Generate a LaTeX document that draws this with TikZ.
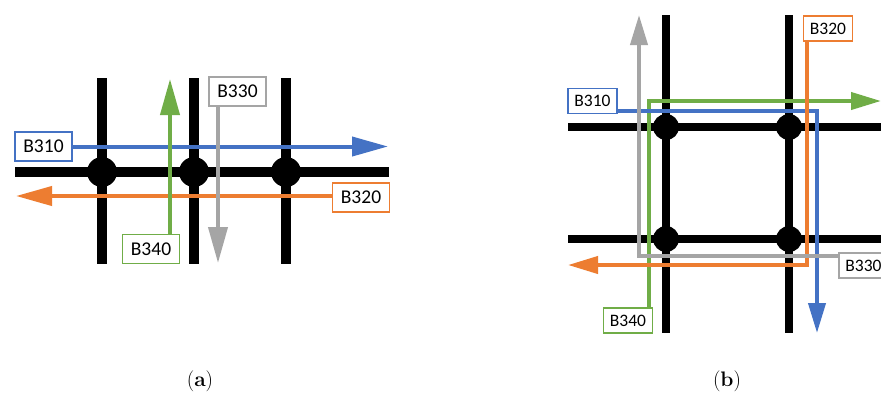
\documentclass[tikz,border=0pt]{standalone}
\usepackage{fontspec}
\setmainfont{Latin Modern Roman}
\newfontfamily\labelfont{Carlito}
\usetikzlibrary{arrows.meta}
\definecolor{cblue}{HTML}{4472C4}
\definecolor{corange}{HTML}{ED7D31}
\definecolor{cgreen}{HTML}{70AD47}
\definecolor{cgray}{HTML}{A5A5A5}
\begin{document}
\begin{tikzpicture}[x=1pt,y=-1pt,
  road/.style={line width=9.5pt,black},
  roadb/.style={line width=8pt,black},
  junction/.style={circle,fill=black,inner sep=0pt,minimum size=30pt},
  junctionb/.style={circle,fill=black,inner sep=0pt,minimum size=26pt},
  route/.style={line width=4pt,-{Triangle[length=36pt,width=19pt]}},
  routeb/.style={line width=4pt,-{Triangle[length=30pt,width=17pt]}},
  tag/.style={draw,fill=white,line width=1.4pt,inner sep=0pt,
    font=\labelfont\fontsize{19.5}{22}\selectfont,minimum width=57pt,minimum height=29pt},
  tagb/.style={draw,fill=white,line width=1.4pt,inner sep=0pt,
    font=\labelfont\fontsize{17.5}{20}\selectfont,minimum width=49pt,minimum height=25pt},
  caption/.style={font=\fontsize{21}{24}\selectfont}]
\clip (0,0) rectangle (881,392);
\fill[white] (0,0) rectangle (881,392);

% ---------- (a) one street with three crossings ----------
\draw[road] (102,78) -- (102,264);
\draw[road] (194,78) -- (194,264);
\draw[road] (286,78) -- (286,264);
\draw[road] (15,172) -- (389,172);
\node[junction] (ja1) at (102,172) {};
\node[junction] (ja2) at (194,172) {};
\node[junction] (ja3) at (286,172) {};

\node[tag,draw=cblue]   (a310) at (43.5,146.5) {B310};
\node[tag,draw=corange] (a320) at (361,197.5)  {B320};
\node[tag,draw=cgreen]  (a340) at (151,249)    {B340};
\node[tag,draw=cgray]   (a330) at (237.5,91.5) {B330};

\coordinate (a310e) at (388,146.5);
\coordinate (a320e) at (16,196);
\coordinate (a340e) at (170,79);
\coordinate (a330e) at (218,263);

\draw[route,cblue]   (a310.east) -- (a310e);
\draw[route,corange] (a320.west |- a320e) -- (a320e);
\draw[route,cgreen]  (a340.north -| a340e) -- (a340e);
\draw[route,cgray]   (a330.south -| a330e) -- (a330e);

% ---------- (b) a block with four crossings ----------
\draw[roadb] (666,15) -- (666,333);
\draw[roadb] (789,15) -- (789,333);
\draw[roadb] (568,127) -- (881,127);
\draw[roadb] (568,239) -- (881,239);
\node[junctionb] (jb1) at (666,127) {};
\node[junctionb] (jb2) at (789,127) {};
\node[junctionb] (jb3) at (666,239) {};
\node[junctionb] (jb4) at (789,239) {};

\node[tagb,draw=cblue]   (b310) at (592.5,101) {B310};
\node[tagb,draw=corange] (b320) at (828,28.5)  {B320};
\node[tagb,draw=cgreen]  (b340) at (628,320.5) {B340};
\node[tagb,draw=cgray]   (b330) at (863.5,265.5) {B330};

\coordinate (g1) at (649,101);
\coordinate (g2) at (881,101);
\coordinate (u1) at (817,111);
\coordinate (u2) at (817,333);
\coordinate (o1) at (807,265);
\coordinate (o2) at (568,265);
\coordinate (r1) at (639,256);
\coordinate (r2) at (639,15);

\draw[routeb,cgreen]  (b340.north -| g1) -- (g1) -- (g2);
\draw[routeb,cblue]   (b310.east |- u1) -- (u1) -- (u2);
\draw[routeb,corange] (b320.south -| o1) -- (o1) -- (o2);
\draw[routeb,cgray]   (b330.west |- r1) -- (r1) -- (r2);
\node[tagb,draw=cgray] at (b330) {B330};

% ---------- captions ----------
\node[caption] (capa) at (200,381) {(\textbf{a})};
\node[caption] (capb) at (727,381) {(\textbf{b})};
\end{tikzpicture}
\end{document}
